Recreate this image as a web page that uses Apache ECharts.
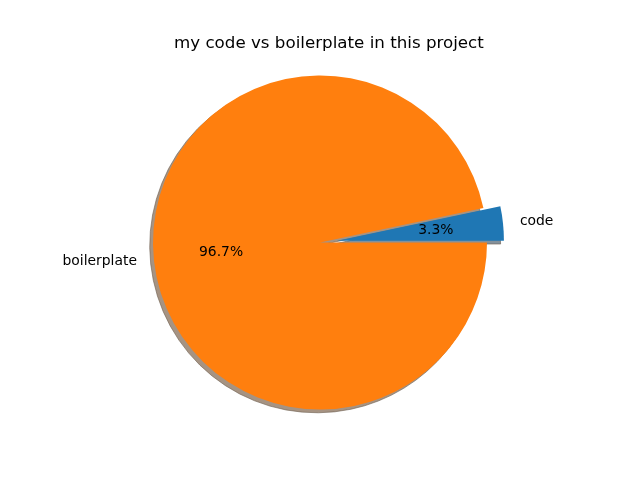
<!DOCTYPE html>
<html><head><meta charset="utf-8">
<script src="https://cdn.jsdelivr.net/npm/echarts@6/dist/echarts.min.js"></script>
<style>html,body{margin:0;padding:0;background:#fff}#c{width:640px;height:480px}</style>
</head><body><div id="c"></div>
<script>
const categories = ['code', 'boilerplate'];
const values = [3.3, 96.7];
const colors = ['#1f77b4', '#ff7f0e'];
const shadowColors = ['#84919b', '#a69382'];
const exploded = [true, false];

const CX = 320, CY = 242.5, R = 167, OFF = 17;
const PR = 96.5;
const font = 'DejaVu Sans';

function mk(colorArr) {
  return categories.map((n, i) => ({
    name: n, value: values[i], selected: exploded[i],
    itemStyle: { color: colorArr[i] }
  }));
}

const chart = echarts.init(document.getElementById('c'), null, { renderer: 'canvas' });
chart.setOption({
  animation: false,
  backgroundColor: '#ffffff',
  title: {
    text: 'my code vs boilerplate in this project',
    left: 174, top: 35, padding: 0,
    textStyle: { fontFamily: font, fontSize: 16.7, fontWeight: 'normal', color: '#000' }
  },
  series: [
    {
      type: 'pie', silent: true, z: 1,
      center: [CX - 3.3, CY + 3.3], radius: R,
      startAngle: 0, clockwise: false,
      selectedMode: 'multiple', selectedOffset: OFF,
      avoidLabelOverlap: false,
      label: { show: false }, labelLine: { show: false },
      itemStyle: { borderWidth: 1, borderColor: 'rgba(110,95,80,0.6)' },
      emphasis: { disabled: true },
      data: mk(shadowColors)
    },
    {
      type: 'pie', silent: true, z: 2,
      center: [CX, CY], radius: R,
      startAngle: 0, clockwise: false,
      selectedMode: 'multiple', selectedOffset: OFF,
      avoidLabelOverlap: false,
      itemStyle: { borderWidth: 0 },
      emphasis: { disabled: true },
      label: {
        show: true, position: 'outside', formatter: '{b}',
        fontFamily: font, fontSize: 13.9, color: '#000',
        distanceToLabelLine: 0
      },
      labelLine: { show: false, length: 17, length2: 0 },
      data: mk(colors)
    },
    {
      type: 'pie', silent: true, z: 3,
      center: [CX, CY], radius: [PR - 1, PR + 1],
      startAngle: 0, clockwise: false,
      selectedMode: 'multiple', selectedOffset: OFF,
      avoidLabelOverlap: false,
      itemStyle: { color: 'rgba(0,0,0,0)', borderWidth: 0 },
      emphasis: { disabled: true },
      label: {
        show: true, position: 'inside',
        formatter: p => p.value.toFixed(1) + '%',
        fontFamily: font, fontSize: 13.9, color: '#000'
      },
      labelLine: { show: false },
      data: categories.map((n, i) => ({ name: n, value: values[i], selected: exploded[i] }))
    }
  ]
});
</script>
</body></html>
